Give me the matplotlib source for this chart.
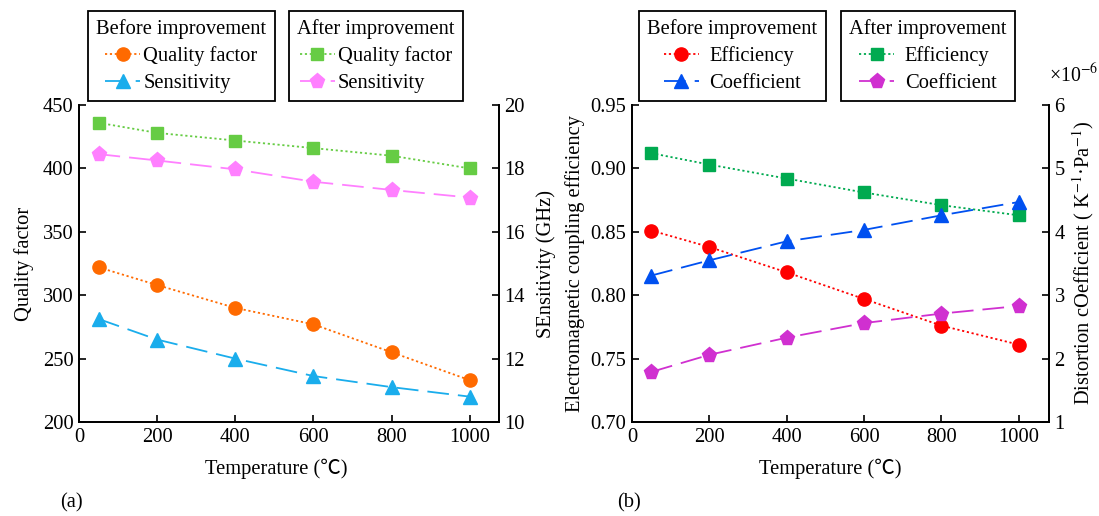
import numpy as np
import matplotlib
matplotlib.use("Agg")
import matplotlib.pyplot as plt

plt.rcParams['font.family'] = ['Liberation Serif', 'Noto Sans CJK SC']
plt.rcParams['mathtext.fontset'] = 'stix'
FS = 14.8
plt.rcParams['font.size'] = FS

temp = [50, 200, 400, 600, 800, 1000]

# panel (a)
q_before = [322, 308, 290, 277, 255, 233]
q_after = [436, 428, 422, 416, 410, 400]
s_before = [13.25, 12.6, 12.0, 11.45, 11.1, 10.8]
s_after = [18.45, 18.25, 17.97, 17.58, 17.32, 17.08]

# panel (b)
e_before = [0.851, 0.838, 0.818, 0.797, 0.776, 0.761]
e_after = [0.912, 0.903, 0.892, 0.881, 0.871, 0.863]
c_before = [3.31, 3.55, 3.85, 4.03, 4.26, 4.47]
c_after = [1.79, 2.06, 2.33, 2.56, 2.71, 2.83]

DOT = (0, (1.2, 1.5))
DASH = (0, (12, 5))
W, H = 1099, 516

fig = plt.figure(figsize=(10.99, 5.16), dpi=100)
ax1 = fig.add_axes([79 / W, 94 / H, 420 / W, 317 / H])
ax2 = fig.add_axes([632 / W, 94 / H, 417 / W, 317 / H])


def style(ax, tw):
    for a in (ax, tw):
        a.spines['top'].set_visible(False)
        for s in ['left', 'right', 'bottom']:
            a.spines[s].set_linewidth(1.3)
        a.tick_params(direction='in', length=5, width=1.2, labelsize=FS, pad=4)


# ---- (a)
tw1 = ax1.twinx()
l1, = ax1.plot(temp, q_before, color='#FF6A00', ls=DOT, lw=1.3, marker='o', ms=9.5,
               label='Quality factor')
l3, = ax1.plot(temp, q_after, color='#66CC44', ls=DOT, lw=1.3, marker='s', ms=9,
               label='Quality factor')
l2, = tw1.plot(temp, s_before, color='#1AADEC', ls=DASH, lw=1.3, marker='^', ms=10.5,
               label='Sensitivity')
l4, = tw1.plot(temp, s_after, color='#FF80FF', ls=DASH, lw=1.3, marker='p', ms=11,
               label='Sensitivity')
ax1.set_xlim(0, 1075)
ax1.set_ylim(200, 450)
tw1.set_ylim(10, 20)
ax1.set_xticks([0, 200, 400, 600, 800, 1000])
ax1.set_yticks([200, 250, 300, 350, 400, 450])
tw1.set_yticks([10, 12, 14, 16, 18, 20])
ax1.set_xlabel('Temperature (℃)', fontsize=FS)
ax1.xaxis.set_label_coords(0.47, -0.117)
ax1.set_ylabel('Quality factor', fontsize=FS, labelpad=6)
tw1.set_ylabel('SEnsitivity (GHz)', fontsize=FS, labelpad=8)
style(ax1, tw1)

# ---- (b)
tw2 = ax2.twinx()
m1, = ax2.plot(temp, e_before, color='#FF0000', ls=DOT, lw=1.3, marker='o', ms=9.5,
               label='Efficiency')
m3, = ax2.plot(temp, e_after, color='#00AA50', ls=DOT, lw=1.3, marker='s', ms=9,
               label='Efficiency')
m2, = tw2.plot(temp, c_before, color='#0050F0', ls=DASH, lw=1.3, marker='^', ms=10.5,
               label='Coefficient')
m4, = tw2.plot(temp, c_after, color='#D030D0', ls=DASH, lw=1.3, marker='p', ms=11,
               label='Coefficient')
ax2.set_xlim(0, 1078)
ax2.set_ylim(0.70, 0.95)
tw2.set_ylim(1, 6)
ax2.set_xticks([0, 200, 400, 600, 800, 1000])
ax2.set_yticks([0.70, 0.75, 0.80, 0.85, 0.90, 0.95])
ax2.set_yticklabels(['0.70', '0.75', '0.80', '0.85', '0.90', '0.95'])
tw2.set_yticks([1, 2, 3, 4, 5, 6])
ax2.set_xlabel('Temperature (℃)', fontsize=FS)
ax2.xaxis.set_label_coords(0.475, -0.117)
ax2.set_ylabel('Electromagnetic coupling efficiency', fontsize=FS, labelpad=4)
tw2.set_ylabel('Distortion cOefficient ( K$^{-1}$·Pa$^{-1}$)', fontsize=FS, labelpad=4)
style(ax2, tw2)
fig.text(1049 / W, 1 - 75 / H, '×10$^{-6}$', fontsize=FS - 0.5, va='center')


def box(handles, title, x, pad):
    lg = fig.legend(handles=handles, title=title, loc='upper left',
                    bbox_to_anchor=(x / W, 1 - 11 / H), fontsize=FS,
                    title_fontsize=FS, frameon=True, fancybox=False,
                    edgecolor='black', framealpha=1, borderpad=0.4,
                    handlelength=1.7, handletextpad=pad, labelspacing=0.35,
                    borderaxespad=0)
    lg.get_frame().set_linewidth(1.3)
    return lg


box([l1, l2], 'Before improvement', 88, 0.15)
box([l3, l4], 'After improvement', 289, 0.15)
box([m1, m2], 'Before improvement', 639, 0.5)
box([m3, m4], 'After improvement', 841, 0.5)

fig.text(60 / W, 1 - 503 / H, '(a)', fontsize=FS, va='center')
fig.text(617 / W, 1 - 503 / H, '(b)', fontsize=FS, va='center')

fig.savefig('out.png', dpi=100)
